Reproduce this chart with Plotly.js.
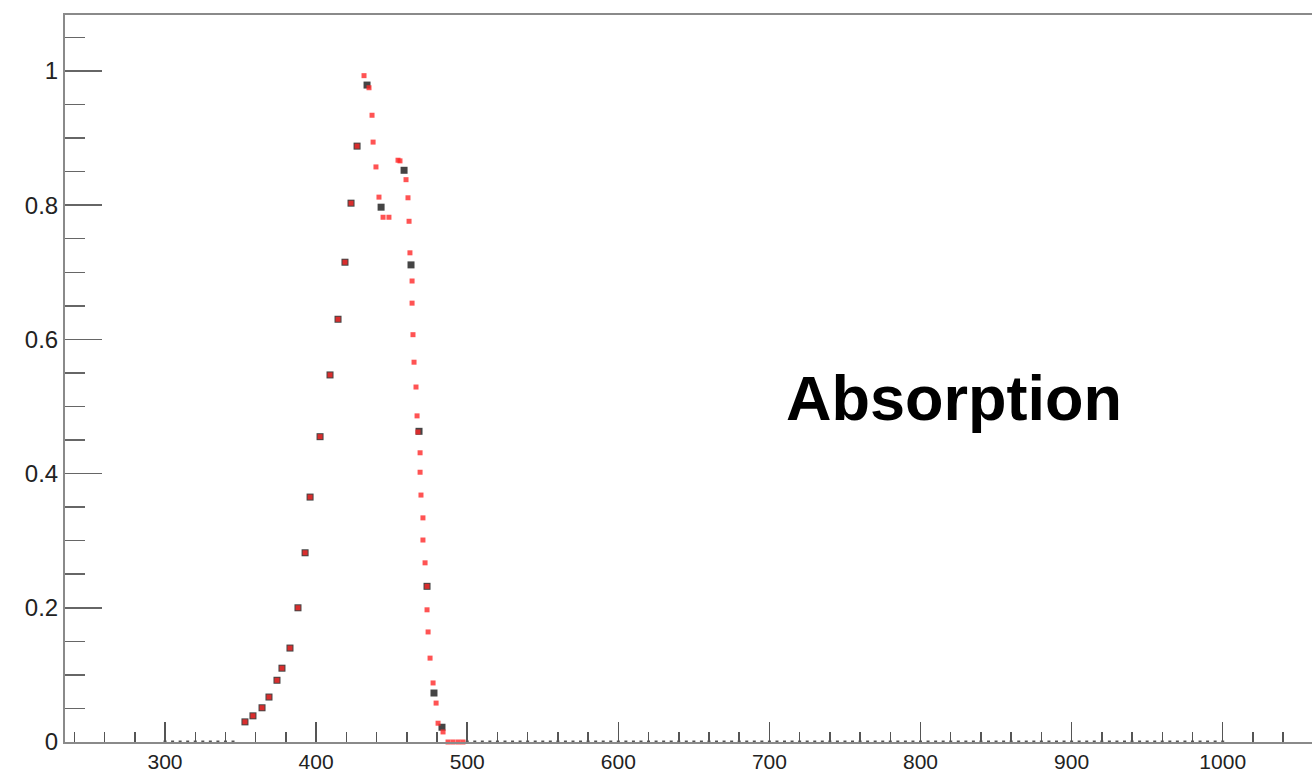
<!DOCTYPE html>
<html>
<head>
<meta charset="utf-8">
<script src="https://cdn.plot.ly/plotly-3.0.1.min.js"></script>
<style>
  html, body { margin: 0; padding: 0; background: #ffffff; }
  #chart { width: 1312px; height: 775px; }
</style>
</head>
<body>
<div id="chart"></div>
<script>
// Red series (wavelength nm, normalized absorption)
const redX = [352.9, 358.2, 364.2, 368.8, 374.1, 377.4, 382.7, 388.0, 392.7, 396.0,
              402.6, 409.2, 414.5, 419.1, 423.1, 427.1, 431.7, 435.0, 437.0, 437.7,
              439.6, 441.6, 444.3, 448.2, 454.2, 455.5, 459.5, 460.8, 461.5, 462.1,
              463.5, 463.5, 464.1, 464.8, 466.1, 466.8, 467.4, 468.8, 468.8, 469.4,
              470.7, 470.7, 472.1, 473.4, 473.4, 474.1, 475.4, 477.4, 479.4, 480.7,
              484.0, 487.3, 490.6, 494.0, 497.2];
const redY = [0.030, 0.039, 0.051, 0.067, 0.092, 0.110, 0.140, 0.200, 0.282, 0.365,
              0.455, 0.547, 0.630, 0.715, 0.803, 0.888, 0.993, 0.975, 0.934, 0.894,
              0.857, 0.812, 0.782, 0.782, 0.867, 0.866, 0.838, 0.811, 0.776, 0.729,
              0.687, 0.654, 0.607, 0.566, 0.529, 0.486, 0.462, 0.431, 0.402, 0.368,
              0.334, 0.301, 0.267, 0.232, 0.197, 0.164, 0.125, 0.088, 0.058, 0.028,
              0.015, 0, 0, 0, 0];

// Black series (measured points)
const blackX = [352.9, 358.2, 364.2, 368.8, 374.1, 377.4, 382.7, 388.0, 392.7, 396.0,
                402.6, 409.2, 414.5, 419.1, 423.1, 427.1, 433.7, 443.0, 458.2, 462.8,
                468.1, 473.4, 478.0, 483.3];
const blackY = [0.030, 0.039, 0.051, 0.067, 0.092, 0.110, 0.140, 0.200, 0.282, 0.365,
                0.455, 0.547, 0.630, 0.715, 0.803, 0.888, 0.979, 0.797, 0.852, 0.711,
                0.463, 0.232, 0.073, 0.022];

// Black series points lying on zero
const zeroX = [300, 305, 310, 315, 320, 325, 330, 335, 340, 345,
               500, 505, 510, 515, 520, 525, 530, 535, 540, 545,
               550, 555, 560, 565, 570, 575, 580, 585, 590, 595,
               600, 605, 610, 615, 620, 625, 630, 635, 640, 645,
               650, 655, 660, 665, 670, 675, 680, 685, 690, 695,
               700, 705, 710, 715, 720, 725, 730, 735, 740, 745,
               750, 755, 760, 765, 770, 775, 780, 785, 790, 795,
               800, 805, 810, 815, 820, 825, 830, 835, 840, 845,
               850, 855, 860, 865, 870, 875, 880, 885, 890, 895,
               900, 905, 910, 915, 920, 925, 930, 935, 940, 945,
               950, 955, 960, 965, 970, 975, 980, 985, 990, 995, 1000];
const zeroY = zeroX.map(() => 0);

const labelText = "Absorption";
const labelPos = [822, 0.513];

const traces = [
  { x: zeroX, y: zeroY, type: 'scatter', mode: 'markers', cliponaxis: false,
    marker: { symbol: 'square', size: 3, color: '#555555' }, hoverinfo: 'skip' },
  { x: blackX, y: blackY, type: 'scatter', mode: 'markers', cliponaxis: false,
    marker: { symbol: 'square', size: 7, color: '#444444' } },
  { x: redX, y: redY, type: 'scatter', mode: 'markers', cliponaxis: false,
    marker: { symbol: 'square', size: 5, color: 'rgba(255,40,40,0.8)' } }
];

const axisColor = '#8a8a8a';
const yTickFont = { family: 'Liberation Sans, Arial, sans-serif', size: 24, color: '#222222' };
const xTickFont = { family: 'Liberation Sans, Arial, sans-serif', size: 21, color: '#222222' };

const layout = {
  width: 1312, height: 775,
  margin: { l: 65, r: 0, t: 15, b: 33 },
  paper_bgcolor: '#ffffff', plot_bgcolor: '#ffffff',
  showlegend: false,
  xaxis: {
    range: [233.8, 1059.1],
    dtick: 100, tick0: 0,
    ticks: 'inside', ticklen: 20, tickwidth: 1.5, tickcolor: '#555555',
    minor: { dtick: 20, tick0: 0, ticks: 'inside', ticklen: 10, tickwidth: 1.5, tickcolor: '#555555' },
    showline: true, linecolor: axisColor, linewidth: 2, mirror: true,
    showgrid: false, zeroline: false,
    tickfont: xTickFont
  },
  yaxis: {
    range: [0, 1.0834],
    dtick: 0.2, tick0: 0,
    ticks: 'inside', ticklen: 37, tickwidth: 1.5, tickcolor: '#666666',
    minor: { dtick: 0.05, tick0: 0, ticks: 'inside', ticklen: 20, tickwidth: 1.5, tickcolor: '#666666' },
    showline: true, linecolor: axisColor, linewidth: 2, mirror: false,
    showgrid: false, zeroline: false,
    tickfont: yTickFont
  },
  annotations: [{
    x: labelPos[0], y: labelPos[1], xref: 'x', yref: 'y',
    text: labelText, showarrow: false,
    font: { family: 'Liberation Sans, Arial, sans-serif', size: 63, color: '#000000', weight: 'bold' },
    xanchor: 'center', yanchor: 'middle'
  }]
};

Plotly.newPlot('chart', traces, layout, { staticPlot: true, displayModeBar: false });
</script>
</body>
</html>
